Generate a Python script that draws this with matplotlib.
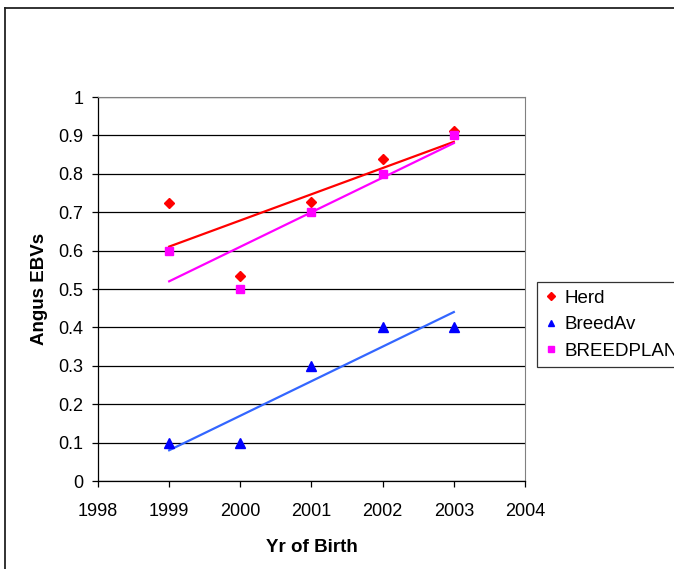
import matplotlib
matplotlib.use("Agg")
import matplotlib.pyplot as plt
import numpy as np
from matplotlib.lines import Line2D

plt.rcParams['font.family'] = ['Liberation Sans', 'DejaVu Sans']

years = [1999, 2000, 2001, 2002, 2003]
herd = [0.723, 0.534, 0.727, 0.838, 0.912]
breed_av = [0.1, 0.1, 0.3, 0.4, 0.4]
breedplan = [0.6, 0.5, 0.7, 0.8, 0.9]
series_names = ["Herd", "BreedAv", "BREEDPLAN"]

W, H = 674, 569
fig = plt.figure(figsize=(W / 100, H / 100), dpi=100)
ax = fig.add_axes([98 / W, 1 - 481 / H, (525 - 98) / W, (481 - 97) / H])

x = np.array(years, dtype=float)
series = [
    (herd, '#FF0000', 'D', 5.5, '#FF0000'),
    (breed_av, '#0000FF', '^', 6.5, '#3366FF'),
    (breedplan, '#FF00FF', 's', 5.5, '#FF00FF'),
]
for vals, col, mk, ms, tcol in series:
    y = np.array(vals)
    ax.plot(x, y, linestyle='none', marker=mk, color=col, markersize=ms, zorder=4)
    m, b = np.polyfit(x, y, 1)
    ax.plot([x[0], x[-1]], [m * x[0] + b, m * x[-1] + b], color=tcol, lw=1.6, zorder=3)

ax.set_xlim(1998, 2004)
ax.set_ylim(0, 1)
ax.set_xticks(np.arange(1998, 2005, 1))
ax.set_xticklabels([str(v) for v in range(1998, 2005)])
yt = np.round(np.arange(0, 1.01, 0.1), 1)
ax.set_yticks(yt)
ax.set_yticklabels(['0'] + [f'{v:g}' for v in yt[1:]])
ax.yaxis.grid(True, color='black', lw=0.9)
ax.set_axisbelow(True)
ax.tick_params(axis='both', direction='out', length=4.5, width=0.9, labelsize=13, colors='black')
ax.tick_params(axis='y', pad=6)
ax.tick_params(axis='x', pad=11)
ax.spines['top'].set_color('#808080')
ax.spines['right'].set_color('#808080')
for s in ['left', 'bottom']:
    ax.spines[s].set_color('black')
    ax.spines[s].set_linewidth(0.9)

ax.set_xlabel('Yr of Birth', fontsize=13.5, fontweight='bold', labelpad=14)
ax.set_ylabel('Angus EBVs', fontsize=13.5, fontweight='bold', labelpad=7.5)

handles = [
    Line2D([], [], linestyle='none', marker='D', color='#FF0000', markersize=4.5),
    Line2D([], [], linestyle='none', marker='^', color='#0000FF', markersize=5),
    Line2D([], [], linestyle='none', marker='s', color='#FF00FF', markersize=4.5),
]
leg = fig.legend(handles, series_names, loc='upper left', bbox_to_anchor=(537 / W, 1 - 282 / H),
                 frameon=True, fancybox=False, fontsize=13.5, handlelength=0.7,
                 handletextpad=0.35, borderpad=0.4, labelspacing=0.5, borderaxespad=0)
leg.get_frame().set_edgecolor('black')
leg.get_frame().set_linewidth(0.9)

# outer chart border
fig.add_artist(Line2D([5 / W, 5 / W], [0, 1 - 8 / H], color='#222222', lw=1.3, transform=fig.transFigure))
fig.add_artist(Line2D([5 / W, 1], [1 - 8 / H, 1 - 8 / H], color='#222222', lw=1.3, transform=fig.transFigure))

fig.savefig('out.png', dpi=100)
